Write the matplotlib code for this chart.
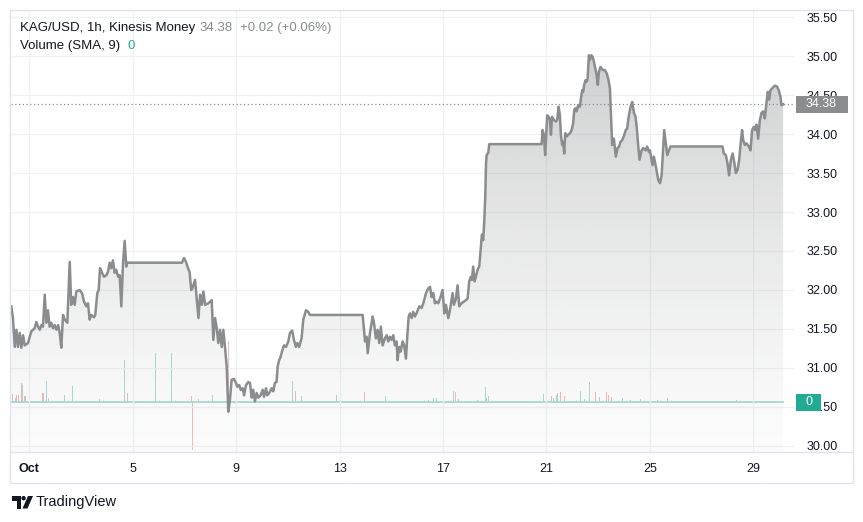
"""KAG/USD 1h area chart with volume overlay, TradingView look."""

import matplotlib.pyplot as plt
import matplotlib.transforms as mtransforms
import numpy as np
from matplotlib.colors import to_rgb
from matplotlib.lines import Line2D
from matplotlib.patches import Ellipse, Polygon, Rectangle

plt.rcParams["font.family"] = ["Liberation Sans", "DejaVu Sans"]

# hours since 2024-10-01 00:00, close price (KAG/USD, 1h)
hours = [
    -16.7, -15.2, -13.5, -12.0, -10.5, -8.9, -7.4, -5.8, -4.3, -1.2,
    1.8, 5.0, 6.5, 8.1, 9.7, 11.2, 12.7, 14.3, 15.8, 17.3,
    18.9, 20.4, 22.0, 23.5, 25.1, 26.7, 28.2, 29.7, 31.3, 32.9,
    35.3, 37.5, 38.9, 40.5, 42.1, 43.6, 46.8, 48.9, 50.8, 52.9,
    54.5, 56.0, 57.5, 60.0, 61.2, 63.1, 64.4, 65.6, 67.5, 69.3,
    71.5, 73.0, 74.6, 76.1, 77.6, 79.2, 80.7, 82.4, 83.9, 85.4,
    87.0, 88.5, 90.0, 90.9, 141.7, 143.6, 145.7, 147.3, 148.8, 149.4,
    150.3, 151.6, 153.8, 157.0, 158.5, 160.1, 161.6, 163.2, 166.2, 169.3,
    170.8, 172.4, 174.0, 175.4, 177.0, 178.6, 180.1, 181.6, 183.2, 184.7,
    186.2, 187.8, 189.9, 191.8, 193.0, 194.9, 196.2, 198.1, 199.3, 201.1,
    203.2, 204.8, 206.4, 207.8, 209.4, 211.0, 212.5, 214.7, 216.6, 217.8,
    219.7, 220.9, 222.7, 224.9, 226.4, 228.0, 229.5, 230.5, 231.9, 233.2,
    234.5, 236.4, 238.2, 240.4, 241.9, 244.0, 245.6, 247.5, 248.7, 250.5,
    252.7, 254.3, 256.8, 258.9, 260.5, 309.4, 311.6, 313.1, 314.1, 316.2,
    318.7, 319.9, 321.7, 323.3, 324.8, 326.3, 327.9, 330.1, 331.7, 333.2,
    334.7, 336.3, 337.8, 339.3, 340.9, 341.8, 343.3, 344.6, 346.5, 347.9,
    349.6, 350.8, 352.1, 353.3, 354.9, 356.3, 357.9, 360.0, 361.9, 364.1,
    365.7, 368.2, 370.3, 371.9, 373.4, 374.9, 376.5, 378.0, 379.5, 381.7,
    383.6, 385.2, 386.7, 388.9, 390.4, 392.9, 394.1, 396.0, 397.5, 399.0,
    401.2, 403.3, 405.3, 406.8, 408.3, 409.9, 410.8, 412.0, 413.3, 414.5,
    416.1, 417.6, 418.9, 420.1, 421.3, 422.2, 423.2, 423.9, 424.5, 426.0,
    426.9, 475.5, 476.4, 477.6, 478.8, 480.7, 482.0, 483.2, 484.2, 485.1,
    486.9, 488.8, 490.0, 491.2, 492.5, 493.4, 494.6, 495.5, 496.5, 497.4,
    498.8, 500.2, 501.8, 503.4, 504.8, 505.8, 507.0, 508.0, 509.4, 511.0,
    511.9, 513.1, 514.1, 515.0, 516.3, 517.3, 518.2, 519.4, 520.3, 521.6,
    522.8, 524.0, 525.3, 526.5, 527.7, 528.7, 530.2, 532.1, 534.2, 535.8,
    537.3, 538.9, 540.1, 541.0, 542.6, 544.4, 546.0, 547.5, 548.7, 550.2,
    551.8, 553.6, 554.9, 556.5, 558.1, 559.6, 561.2, 562.7, 563.9, 565.1,
    566.4, 568.3, 569.8, 572.0, 573.5, 575.1, 576.0, 578.5, 579.7, 581.6,
    583.8, 585.4, 586.9, 588.4, 589.3, 590.6, 592.1, 593.7, 595.2, 643.4,
    644.6, 646.5, 648.1, 649.5, 651.2, 652.8, 654.3, 655.8, 657.4, 658.9,
    660.4, 661.6, 662.6, 664.1, 665.7, 667.8, 669.4, 670.9, 672.5, 673.7,
    675.0, 676.5, 678.1, 679.6, 681.1, 682.7, 684.3, 685.5, 686.7, 687.9,
    689.8, 691.9, 694.0, 695.6, 697.2, 698.1, 699.7,
]
prices = [
    31.79, 31.64, 31.27, 31.49, 31.27, 31.45, 31.26, 31.42, 31.29, 31.32,
    31.47, 31.51, 31.59, 31.53, 31.49, 31.55, 31.53, 31.94, 31.58, 31.74,
    31.53, 31.58, 31.51, 31.55, 31.49, 31.55, 31.45, 31.26, 31.68, 31.62,
    31.58, 32.36, 31.81, 31.91, 31.81, 31.98, 32.00, 31.96, 31.85, 31.79,
    31.83, 31.62, 31.68, 31.65, 31.68, 31.96, 32.00, 32.28, 32.22, 32.17,
    32.19, 32.23, 32.35, 32.28, 32.38, 32.22, 32.26, 32.17, 32.19, 31.79,
    32.35, 32.63, 32.30, 32.35, 32.35, 32.41, 32.35, 32.28, 32.23, 32.13,
    32.00, 32.03, 32.13, 31.64, 31.94, 31.81, 31.98, 31.81, 31.83, 31.87,
    31.36, 31.64, 31.51, 31.32, 31.49, 31.27, 31.49, 31.27, 31.02, 30.44,
    30.59, 30.85, 30.86, 30.81, 30.76, 30.78, 30.72, 30.74, 30.65, 30.78,
    30.82, 30.81, 30.62, 30.72, 30.57, 30.68, 30.62, 30.65, 30.72, 30.63,
    30.74, 30.65, 30.68, 30.74, 30.70, 30.81, 30.82, 31.02, 31.10, 31.14,
    31.21, 31.29, 31.27, 31.34, 31.45, 31.48, 31.36, 31.27, 31.32, 31.27,
    31.38, 31.62, 31.74, 31.72, 31.68, 31.68, 31.34, 31.40, 31.19, 31.45,
    31.66, 31.58, 31.38, 31.49, 31.32, 31.53, 31.29, 31.38, 31.42, 31.34,
    31.40, 31.36, 31.42, 31.29, 31.34, 31.10, 31.27, 31.21, 31.34, 31.29,
    31.12, 31.40, 31.66, 31.70, 31.64, 31.72, 31.66, 31.72, 31.79, 31.77,
    31.83, 31.96, 32.02, 32.04, 31.91, 31.96, 31.83, 31.85, 31.83, 31.91,
    32.00, 31.70, 31.81, 31.64, 31.74, 31.96, 31.81, 31.89, 32.06, 31.79,
    31.83, 31.85, 31.87, 31.89, 32.11, 32.17, 32.13, 32.30, 32.11, 32.17,
    32.26, 32.30, 32.51, 32.71, 32.64, 32.86, 33.20, 33.62, 33.73, 33.76,
    33.87, 33.87, 34.05, 33.99, 33.73, 34.24, 34.22, 34.18, 33.99, 34.22,
    34.18, 34.16, 34.18, 34.35, 34.24, 33.99, 33.86, 33.90, 33.75, 34.01,
    33.97, 33.99, 34.01, 34.05, 34.14, 34.31, 34.33, 34.29, 34.37, 34.35,
    34.44, 34.56, 34.54, 34.63, 34.69, 34.67, 34.71, 35.01, 34.95, 35.01,
    34.99, 34.93, 34.84, 34.76, 34.63, 34.80, 34.86, 34.82, 34.82, 34.78,
    34.71, 34.59, 34.16, 33.86, 33.94, 33.71, 33.82, 33.84, 33.90, 33.92,
    33.97, 34.05, 34.07, 34.24, 34.35, 34.41, 34.27, 34.22, 34.07, 33.86,
    33.67, 33.79, 33.82, 33.79, 33.84, 33.77, 33.79, 33.60, 33.71, 33.58,
    33.41, 33.37, 33.47, 33.82, 34.05, 33.90, 33.73, 33.79, 33.84, 33.84,
    33.75, 33.73, 33.62, 33.47, 33.67, 33.75, 33.64, 33.50, 33.54, 33.67,
    33.90, 34.05, 33.92, 33.86, 33.88, 33.84, 33.79, 34.05, 34.09, 34.05,
    34.12, 33.94, 34.18, 34.27, 34.29, 34.20, 34.41, 34.54, 34.44, 34.56,
    34.59, 34.62, 34.61, 34.56, 34.48, 34.37, 34.38,
]
assert len(hours) == len(prices)

# volume bars (arbitrary units), split by candle direction
vol_up_hours = [-13.0, -6.5, -3.1, 15.8, 17.6, 32.5, 39.9, 65.0, 88.2, 116.7,
                131.8, 169.9, 244.6, 252.8, 285.3, 330.8, 370.4, 375.0, 377.5, 393.6,
                415.8, 423.3, 424.6, 426.0, 477.1, 486.4, 489.5, 490.7, 511.2, 515.2,
                519.8, 529.1, 550.5, 557.7, 567.5, 592.2]
vol_up = [4, 17, 6, 21, 4, 7, 16, 3, 42, 49,
          49, 7, 21, 6, 7, 6, 2, 4, 4, 11,
          2, 15, 4, 6, 8, 4, 7, 9, 11, 3,
          20, 5, 4, 2, 3, 4]
vol_down_hours = [-15.8, -11.7, -9.6, -7.7, -4.9, 12.1, 13.6, 91.0, 150.5, 151.3,
                  156.9, 184.7, 246.9, 310.9, 395.4, 398.2, 479.6, 484.9, 492.6, 496.6,
                  525.4, 535.6, 537.5, 540.6, 582.9, 644.8, 656.6]
vol_down = [8, 7, 7, 19, 6, 9, 9, 9, 6, -48,
            3, 61, 11, 10, 10, 3, 10, 6, 10, 6,
            10, 10, 7, 5, 2, 4, 2]

tick_hours = [0, 96, 192, 288, 384, 480, 576, 672]
tick_labels = ["Oct", "5", "9", "13", "17", "21", "25", "29"]
price_ticks = np.arange(30.0, 35.51, 0.5)
last_price = 34.38
last_change = "+0.02 (+0.06%)"
volume_sma = "0"

LINE = "#8a8c8e"
TEXT = "#131722"
GRID = "#eff1f4"
BORDER = "#e0e3eb"
UP = "#a8ddd5"
DOWN = "#f8b8b9"
TEAL = "#22ab94"

W, H = 863, 522
fig = plt.figure(figsize=(W / 100, H / 100), dpi=100)
fig.patch.set_facecolor("white")


def px(x, y):
    return (x / W, 1 - y / H)


rect = [11 / W, 1 - 452 / H, 784 / W, 441 / H]
xlim = (-17.0, 710.7)
ylim = (29.923, 35.577)

# volume pane underneath
axv = fig.add_axes(rect)
axv.bar(vol_up_hours, vol_up, width=0.9, color=UP, linewidth=0)
axv.bar(vol_down_hours, vol_down, width=0.9, color=DOWN, linewidth=0)
axv.axhline(0, xmin=0, xmax=(hours[-1] - xlim[0]) / (xlim[1] - xlim[0]),
            color=UP, linewidth=1.3)
axv.set_xlim(*xlim)
axv.set_ylim(-50, 391)
axv.axis("off")

# price pane on top
ax = fig.add_axes(rect)
ax.patch.set_visible(False)

verts = [(hours[0], ylim[0])] + list(zip(hours, prices)) + [(hours[-1], ylim[0])]
area = Polygon(verts, closed=True, facecolor="none", edgecolor="none")
ax.add_patch(area)
t = np.linspace(1, 0, 300)
grad = np.zeros((300, 1, 4))
grad[..., :3] = to_rgb(LINE)
grad[..., 3] = (0.03 + 0.44 * t ** 1.3)[:, None]
im = ax.imshow(grad, extent=[xlim[0], xlim[1], ylim[0], ylim[1]],
               aspect="auto", origin="upper", zorder=1)
im.set_clip_path(area)

ax.plot(hours, prices, color=LINE, linewidth=1.8, zorder=3,
        solid_joinstyle="round")
ax.axhline(last_price, color=LINE, linewidth=0.9, linestyle=(0, (1, 2)), zorder=2)

ax.set_xlim(*xlim)
ax.set_ylim(*ylim)
ax.set_xticks(tick_hours)
ax.set_xticklabels(tick_labels)
ax.get_xticklabels()[0].set_fontweight("bold")
ax.set_yticks(price_ticks)
ax.set_yticklabels([f"{v:.2f}" for v in price_ticks])
ax.yaxis.tick_right()
ax.tick_params(axis="y", length=0, pad=8, labelsize=9, labelcolor=TEXT)
ax.tick_params(axis="x", length=0, pad=8, labelsize=9, labelcolor=TEXT)
ax.grid(color=GRID, linewidth=0.9)
ax.set_axisbelow(True)
for s in ax.spines.values():
    s.set_visible(False)

# price scale badges
trans_p = mtransforms.blended_transform_factory(ax.transAxes, ax.transData)
trans_v = mtransforms.blended_transform_factory(ax.transAxes, axv.transData)
ax.add_patch(Rectangle((1.0013, last_price - 0.109), 0.0663, 0.218,
                       transform=trans_p, facecolor=LINE, edgecolor="none",
                       clip_on=False, zorder=5))
ax.text(1.0135, last_price, f"{last_price:.2f}", transform=trans_p, color="white",
        fontsize=9, va="center", ha="left", clip_on=False, zorder=6)
ax.add_patch(Rectangle((1.0013, -8.5), 0.0319, 17, transform=trans_v,
                       facecolor=TEAL, edgecolor="none", clip_on=False, zorder=5))
ax.text(1.0135, 0, volume_sma, transform=trans_v, color="white",
        fontsize=9, va="center", ha="left", clip_on=False, zorder=6)

# header legend
fig.text(*px(20, 28), "KAG/USD, 1h, Kinesis Money", color=TEXT, fontsize=9.5, va="center")
fig.text(*px(199, 28), f"{last_price:.2f}", color=LINE, fontsize=9.5, va="center")
fig.text(*px(240, 28), last_change, color=LINE, fontsize=9.5, va="center")
fig.text(*px(20, 46), "Volume (SMA, 9)", color=TEXT, fontsize=9.5, va="center")
fig.text(*px(127, 46), volume_sma, color=TEAL, fontsize=9.5, va="center")

# frame around chart
fig.add_artist(Rectangle(px(10, 483), 843 / W, 473 / H, transform=fig.transFigure,
                         fill=False, edgecolor=BORDER, linewidth=1))
fig.add_artist(Line2D([10 / W, 853 / W], [1 - 452 / H] * 2, transform=fig.transFigure,
                      color=BORDER, linewidth=1))

# TradingView mark
logo = "#131722"
fig.add_artist(Polygon([px(12, 496), px(21, 496), px(21, 508.5), px(16.5, 508.5),
                        px(16.5, 500.5), px(12, 500.5)], closed=True,
                       transform=fig.transFigure, facecolor=logo, edgecolor="none"))
fig.add_artist(Ellipse(px(23.6, 498.2), 4.4 / W, 4.4 / H, transform=fig.transFigure,
                       facecolor=logo, edgecolor="none"))
fig.add_artist(Polygon([px(28, 496), px(33, 496), px(27.5, 508.5), px(22.5, 508.5)],
                       closed=True, transform=fig.transFigure, facecolor=logo,
                       edgecolor="none"))
fig.text(*px(36, 502), "TradingView", color=TEXT, fontsize=10.5, va="center")

fig.savefig("out.png", dpi=100)
